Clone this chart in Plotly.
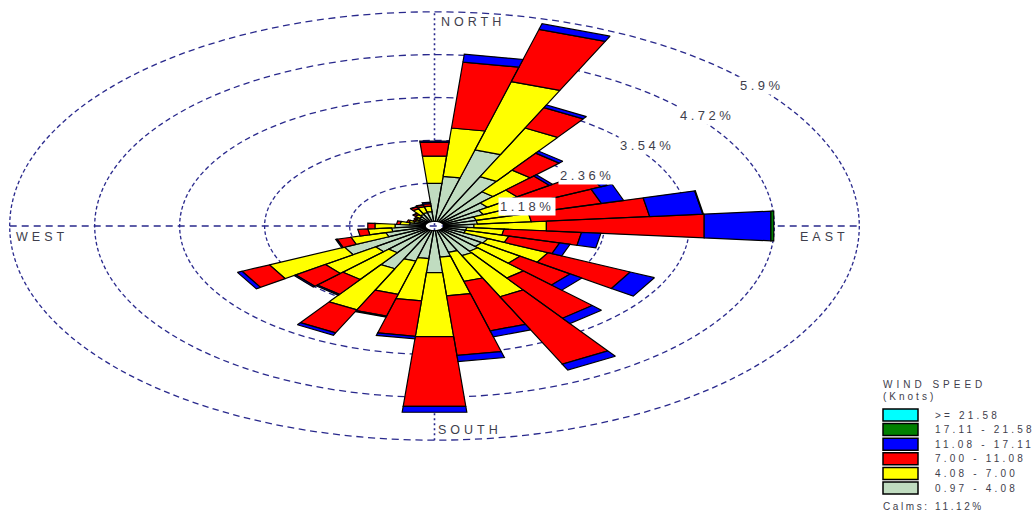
import numpy as np
import plotly.graph_objects as go

# ---- data: wind frequency (%) by direction and speed class ----
directions = [0, 10, 20, 30, 40, 50, 60, 70, 80, 90, 100, 110, 120, 130, 140, 150, 160, 170,
              180, 190, 200, 210, 220, 230, 240, 250, 260, 270, 280, 290, 300, 310, 320, 330, 340, 350]

freq_097_408 = [1.05, 1.24, 2.04, 1.37, 1.02, 0.77, 0.62, 0.47, 0.47, 0.42, 0.32, 0.32, 0.69, 0.67, 0.72, 0.77, 0.62, 0.73,
                1.16, 0.77, 0.87, 1.17, 0.77, 0.87, 1.25, 0.57, 0.47, 0.42, 0.22, 0.17, 0.12, 0.14, 0.17, 0.22, 0.25, 0.27]
freq_408_700 = [0.75, 1.34, 1.95, 1.48, 0.73, 0.50, 0.55, 0.55, 0.75, 1.01, 0.52, 0.62, 0.92, 0.65, 0.90, 1.25, 0.83, 1.07,
                1.77, 1.17, 0.95, 1.25, 0.90, 0.85, 1.15, 0.50, 0.33, 0.28, 0.13, 0.07, 0.05, 0.05, 0.08, 0.17, 0.17, 0.15]
freq_700_1108 = [0.38, 1.82, 1.49, 0.62, 0.57, 0.55, 1.25, 1.25, 1.65, 2.20, 1.08, 0.73, 1.26, 0.85, 1.35, 2.05, 1.41, 1.65,
                 1.93, 0.98, 0.62, 0.70, 0.50, 0.50, 0.42, 0.20, 0.14, 0.10, 0.05, 0.03, 0.03, 0.03, 0.04, 0.06, 0.05, 0.07]
freq_1108_1711 = [0.04, 0.22, 0.16, 0.08, 0.07, 0.05, 0.10, 0.32, 0.74, 0.93, 0.27, 0.15, 0.37, 0.20, 0.18, 0.18, 0.17, 0.17,
                  0.16, 0.07, 0.03, 0.07, 0.03, 0.03, 0.07, 0.02, 0.00, 0.00, 0.00, 0.00, 0.00, 0.00, 0.01, 0.01, 0.01, 0.04]
freq_1711_2158 = [0.00, 0.00, 0.00, 0.00, 0.00, 0.00, 0.00, 0.00, 0.01, 0.04, 0.00, 0.00, 0.00, 0.00, 0.00, 0.00, 0.00, 0.00,
                  0.00, 0.00, 0.00, 0.00, 0.00, 0.00, 0.00, 0.00, 0.00, 0.00, 0.00, 0.00, 0.00, 0.00, 0.00, 0.00, 0.00, 0.00]
freq_ge_2158 = [0.00, 0.00, 0.00, 0.00, 0.00, 0.00, 0.00, 0.00, 0.00, 0.00, 0.00, 0.00, 0.00, 0.00, 0.00, 0.00, 0.00, 0.00,
                0.00, 0.00, 0.00, 0.00, 0.00, 0.00, 0.00, 0.00, 0.00, 0.00, 0.00, 0.00, 0.00, 0.00, 0.00, 0.00, 0.00, 0.00]

speed_classes = ["0.97 - 4.08", "4.08 - 7.00", "7.00 - 11.08", "11.08 - 17.11", "17.11 - 21.58", ">= 21.58"]
class_freqs = [freq_097_408, freq_408_700, freq_700_1108, freq_1108_1711, freq_1711_2158, freq_ge_2158]
class_colors = ["#C0DCC0", "#FFFF00", "#FF0000", "#0000FF", "#008000", "#00FFFF"]

ring_levels = [1.18, 2.36, 3.54, 4.72, 5.9]
calms_pct = 11.12

# ---- geometry / styling ----
W, H = 1036, 513
CX, CY = 434.5, 226.0          # rose centre in page pixels
SX, SY = 72.0, 36.3            # pixels per percent (horizontal, vertical)
CALM_R = 0.13                  # radius of the calm hole
HALF_W = 5.0                   # half sector width, degrees
GRID = "#28288c"
TXT = "#3e3e4c"
FONT = "Arial, Liberation Sans, sans-serif"

x_range = [-CX / SX, (W - CX) / SX]
y_range = [-(H - CY) / SY, CY / SY]

fig = go.Figure()


def pt(r, deg):
    a = np.radians(deg)
    return r * np.sin(a), r * np.cos(a)


# dashed rings: dash pattern laid out in unstretched space, so it
# stretches the same way the ellipse does
rx, ry = [], []
for lev in ring_levels:
    circ = 2 * np.pi * lev * SY
    n = int(round(circ / 6.0))
    for i in range(n):
        t0 = 360.0 * i / n
        t1 = t0 + 360.0 * (3.6 / 6.0) / n
        for t in np.linspace(t0, t1, 3):
            x, y = pt(lev, t)
            rx.append(x)
            ry.append(y)
        rx.append(None)
        ry.append(None)
fig.add_trace(go.Scatter(x=rx, y=ry, mode="lines", line=dict(color=GRID, width=1.3),
                         hoverinfo="skip", showlegend=False))

rmax = ring_levels[-1]
fig.add_trace(go.Scatter(x=[-rmax, rmax], y=[0, 0], mode="lines",
                         line=dict(color=GRID, width=1.3, dash="7px,5px"),
                         hoverinfo="skip", showlegend=False))
fig.add_trace(go.Scatter(x=[0, 0], y=[-rmax, rmax], mode="lines",
                         line=dict(color=GRID, width=1.6, dash="2px,3px"),
                         hoverinfo="skip", showlegend=False))

# stacked sectors, one trace per speed class
base = [CALM_R] * len(directions)
for name, vals, col in zip(speed_classes, class_freqs, class_colors):
    xs, ys = [], []
    for j, d in enumerate(directions):
        v = vals[j]
        r0 = base[j]
        r1 = r0 + v
        base[j] = r1
        if v <= 0:
            continue
        corners = [pt(r0, d - HALF_W), pt(r1, d - HALF_W), pt(r1, d + HALF_W), pt(r0, d + HALF_W), pt(r0, d - HALF_W)]
        for x, y in corners:
            xs.append(x)
            ys.append(y)
        xs.append(None)
        ys.append(None)
    if xs:
        fig.add_trace(go.Scatter(x=xs, y=ys, mode="lines", fill="toself", fillcolor=col,
                                 line=dict(color="black", width=1.2), name=name,
                                 hoverinfo="skip", showlegend=False))


def spaced(text, px):
    return f'<span style="letter-spacing:{px}px">{text}</span>'


ann = []
# ring labels
for lev in ring_levels:
    x, y = pt(lev, 45)
    ann.append(dict(x=x, y=y, xref="x", yref="y", text=spaced(f"{lev}%", 3.5), showarrow=False,
                    xanchor="left", yanchor="top", xshift=3, yshift=-1, bgcolor="white",
                    font=dict(family=FONT, size=13, color=TXT)))

# compass labels
cfont = dict(family=FONT, size=12.5, color=TXT)
ann.append(dict(x=0, y=rmax, xref="x", yref="y", text=spaced("NORTH", 4), showarrow=False,
                xanchor="left", yanchor="top", xshift=4, yshift=-1, font=cfont))
ann.append(dict(x=0, y=-rmax, xref="x", yref="y", text=spaced("SOUTH", 4), showarrow=False,
                xanchor="left", yanchor="bottom", xshift=1, yshift=1, font=cfont))
ann.append(dict(x=rmax, y=0, xref="x", yref="y", text=spaced("EAST", 4), showarrow=False,
                xanchor="right", yanchor="top", xshift=-8, yshift=-2, font=cfont))
ann.append(dict(x=-rmax, y=0, xref="x", yref="y", text=spaced("WEST", 4), showarrow=False,
                xanchor="left", yanchor="top", xshift=4, yshift=-2, font=cfont))


# legend block (page pixel positions converted to paper coords)
def px(x):
    return x / W


def py(y):
    return 1 - y / H


lfont = dict(family=FONT, size=10, color=TXT)
ann.append(dict(x=px(881), y=py(384), xref="paper", yref="paper", text=spaced("WIND SPEED", 4),
                showarrow=False, xanchor="left", yanchor="middle", font=lfont))
ann.append(dict(x=px(881), y=py(396), xref="paper", yref="paper", text=spaced("(Knots)", 3),
                showarrow=False, xanchor="left", yanchor="middle", font=lfont))

shapes = []
for k, (name, col) in enumerate(zip(speed_classes[::-1], class_colors[::-1])):
    top = 409 + k * 14.6
    shapes.append(dict(type="rect", xref="paper", yref="paper", x0=px(883), x1=px(918),
                       y0=py(top + 12), y1=py(top), fillcolor=col, line=dict(color="black", width=1.5)))
    ann.append(dict(x=px(933), y=py(top + 6), xref="paper", yref="paper", text=spaced(name, 3.2),
                    showarrow=False, xanchor="left", yanchor="middle", font=lfont))

ann.append(dict(x=px(881), y=py(506), xref="paper", yref="paper", text=spaced(f"Calms: {calms_pct:.2f}%", 2.6),
                showarrow=False, xanchor="left", yanchor="middle", font=lfont))

fig.update_layout(
    width=W, height=H, autosize=False,
    margin=dict(l=0, r=0, t=0, b=0),
    paper_bgcolor="white", plot_bgcolor="white",
    xaxis=dict(range=x_range, visible=False, domain=[0, 1], fixedrange=True),
    yaxis=dict(range=y_range, visible=False, domain=[0, 1], fixedrange=True),
    annotations=ann, shapes=shapes, showlegend=False,
)

fig.write_html("out.html", config={"displayModeBar": False})
